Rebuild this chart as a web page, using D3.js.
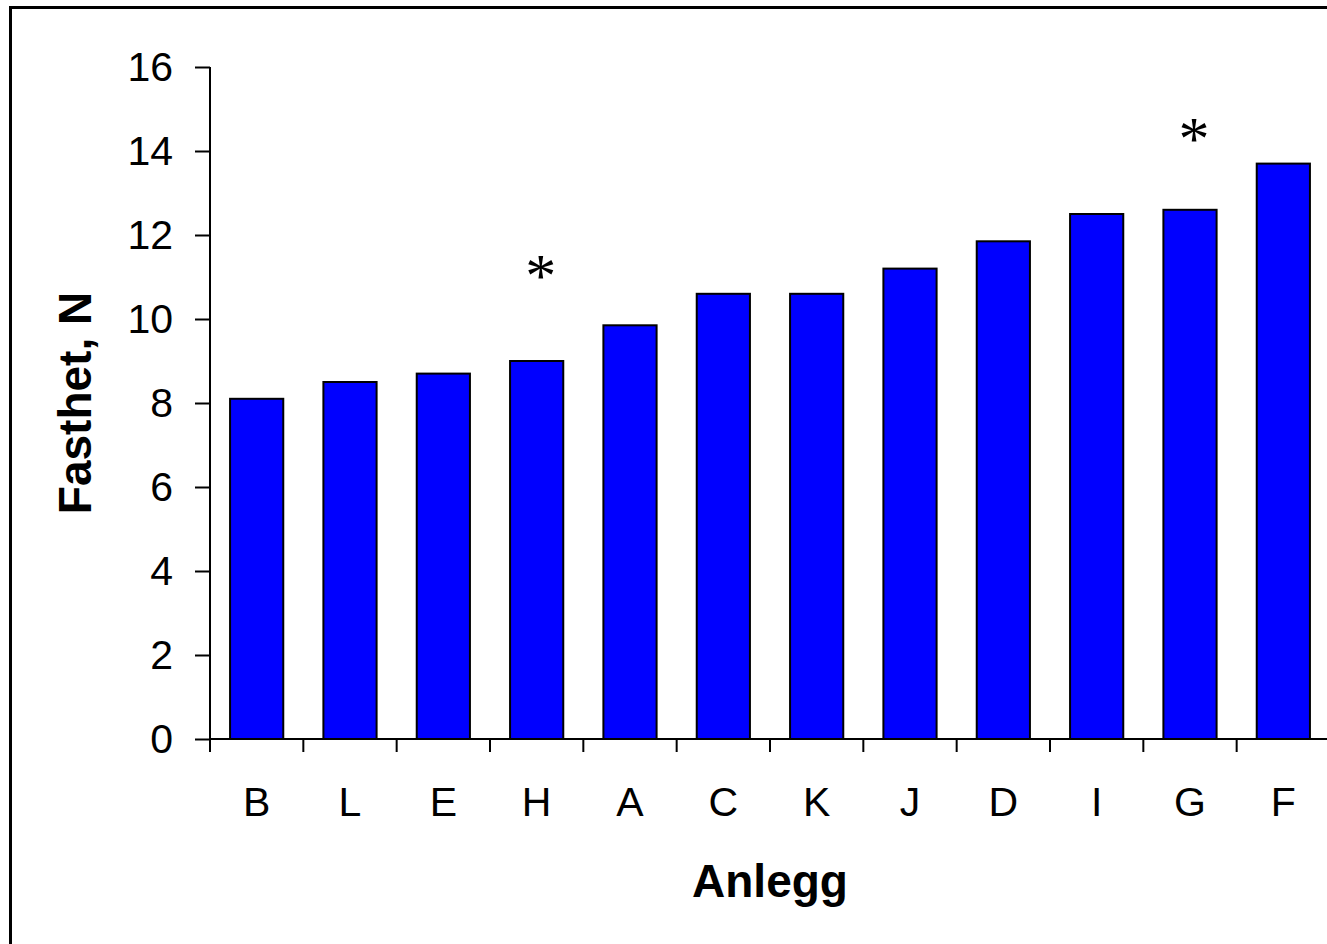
<!DOCTYPE html>
<html>
<head>
<meta charset="utf-8">
<script src="https://cdn.jsdelivr.net/npm/d3@7"></script>
<style>
  html, body { margin: 0; padding: 0; background: #fff; }
  svg { display: block; }
</style>
</head>
<body>
<svg id="chart" width="1327" height="944"></svg>
<script>
const categories = ["B", "L", "E", "H", "A", "C", "K", "J", "D", "I", "G", "F"];
const values = [8.1, 8.5, 8.7, 9.0, 9.85, 10.6, 10.6, 11.2, 11.85, 12.5, 12.6, 13.7];
const yTicks = [0, 2, 4, 6, 8, 10, 12, 14, 16];
const markCategories = ["H", "G"];
const markValues = [11.2, 14.45];
const xTitle = "Anlegg";
const yTitle = "Fasthet, N";

(function () {
const svg = d3.select("#chart");
const font = "'Liberation Sans', Arial, sans-serif";

// outer frame
svg.append("rect")
  .attr("x", 10.5).attr("y", 7.5)
  .attr("width", 1400).attr("height", 1000)
  .attr("fill", "none").attr("stroke", "#000").attr("stroke-width", 3);

const pLeft = 210, pRight = 1330, pTop = 67, pBottom = 739;

const x = d3.scaleBand().domain(categories).range([pLeft, pRight]).paddingInner(0.43).paddingOuter(0.215);
const y = d3.scaleLinear().domain([0, 16]).range([pBottom, pTop]);

// bars
svg.append("g").selectAll("rect")
  .data(categories.map((c, i) => ({c, v: values[i]})))
  .join("rect")
  .attr("x", d => x(d.c))
  .attr("y", d => y(d.v))
  .attr("width", x.bandwidth())
  .attr("height", d => y(0) - y(d.v))
  .attr("fill", "#0000ff")
  .attr("stroke", "#000")
  .attr("stroke-width", 2);

// y axis
const yAxis = svg.append("g")
  .attr("transform", `translate(${pLeft},0)`)
  .call(d3.axisLeft(y).tickValues(yTicks).tickSize(15).tickPadding(22).tickFormat(d3.format("d")));
yAxis.select(".domain").attr("stroke-width", 2).attr("d", `M0,${pTop}V${pBottom}`);
yAxis.selectAll(".tick line").attr("stroke-width", 2);
yAxis.selectAll("text").attr("font-family", font).attr("font-size", 41).attr("fill", "#000");

// x axis labels
const xAxis = svg.append("g")
  .attr("transform", `translate(0,${pBottom})`)
  .call(d3.axisBottom(x).tickSize(0).tickPadding(48));
xAxis.select(".domain").remove();
xAxis.selectAll("text").attr("font-family", font).attr("font-size", 41).attr("fill", "#000");

// x axis line and boundary ticks
const step = x.step();
const gx = svg.append("g");
gx.append("line").attr("x1", pLeft).attr("x2", pRight).attr("y1", pBottom).attr("y2", pBottom)
  .attr("stroke", "#000").attr("stroke-width", 2);
gx.selectAll("line.tk")
  .data(categories.concat(["_end"]))
  .join("line")
  .attr("class", "tk")
  .attr("x1", (d, i) => pLeft + i * step)
  .attr("x2", (d, i) => pLeft + i * step)
  .attr("y1", pBottom).attr("y2", pBottom + 13)
  .attr("stroke", "#000").attr("stroke-width", 2);

// significance marks
svg.append("g").selectAll("text")
  .data(markCategories.map((c, i) => ({c, v: markValues[i]})))
  .join("text")
  .attr("x", d => x(d.c) + x.bandwidth() / 2 + 4)
  .attr("y", d => y(d.v) + 27)
  .attr("text-anchor", "middle")
  .attr("font-family", "'Liberation Serif', 'Times New Roman', serif")
  .attr("font-size", 62)
  .text("*");

// axis titles
svg.append("text")
  .attr("x", (pLeft + pRight) / 2).attr("y", 897)
  .attr("text-anchor", "middle")
  .attr("font-family", font).attr("font-weight", "bold").attr("font-size", 46)
  .text(xTitle);

svg.append("text")
  .attr("transform", `translate(91,${(pTop + pBottom) / 2}) rotate(-90)`)
  .attr("text-anchor", "middle")
  .attr("font-family", font).attr("font-weight", "bold").attr("font-size", 46)
  .text(yTitle);
})();
</script>
</body>
</html>
